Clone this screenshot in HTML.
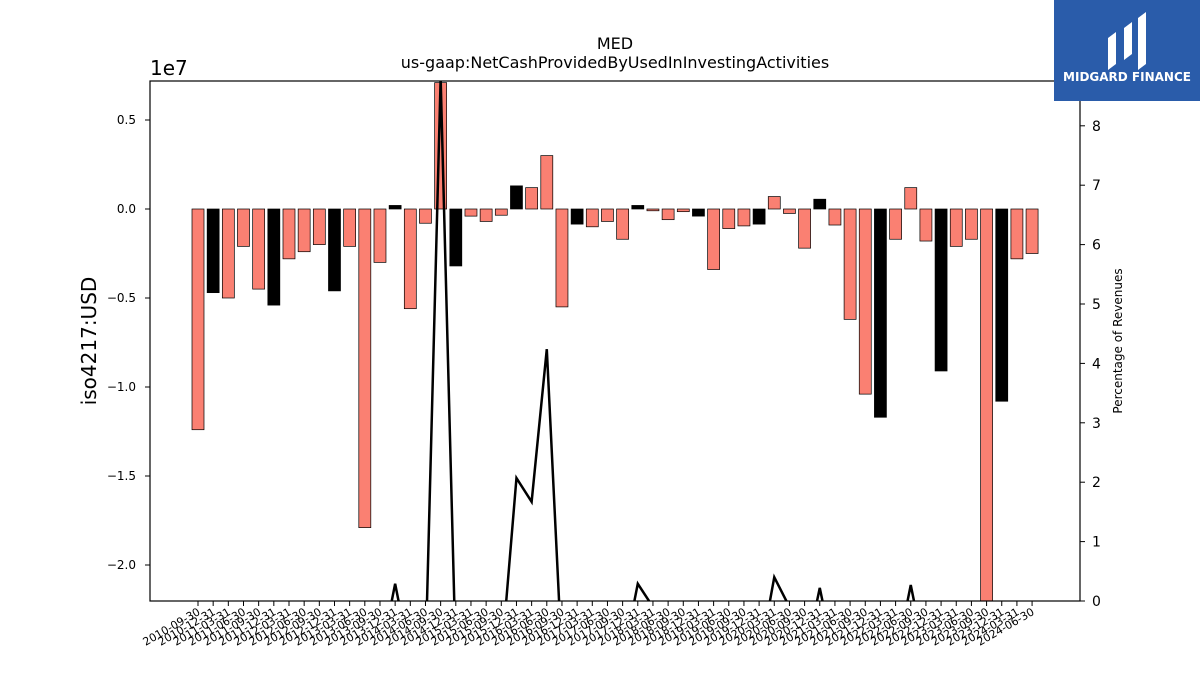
<!DOCTYPE html>
<html><head><meta charset="utf-8"><style>
body{margin:0;background:#fff;font-family:"DejaVu Sans","Liberation Sans",sans-serif}
</style></head><body>
<svg id="c" width="1200" height="675" xmlns="http://www.w3.org/2000/svg" font-family="DejaVu Sans, Liberation Sans, sans-serif">
<defs><clipPath id="clip"><rect x="150" y="81" width="930" height="520"/></clipPath></defs>
<text x="615" y="49" font-size="16" text-anchor="middle">MED</text>
<text x="615" y="68" font-size="16" text-anchor="middle">us-gaap:NetCashProvidedByUsedInInvestingActivities</text>
<text x="150" y="75" font-size="20">1e7</text>
<text transform="translate(96,341) rotate(-90)" font-size="20" text-anchor="middle">iso4217:USD</text>
<text transform="translate(1122,341) rotate(-90)" font-size="12" text-anchor="middle">Percentage of Revenues</text>
<g id="bars" clip-path="url(#clip)"></g>
<g id="line" clip-path="url(#clip)"></g>
<g id="axes"></g>
<g>
<rect x="1054" y="0" width="146" height="101" fill="#2a5caa"/>
<path d="M1108 70 V38 L1116 32 V64 Z M1124 60 V28 L1132 22 V54 Z M1138 70 V18 L1146 12 V64 Z" fill="#fff"/>
<text x="1127" y="81" font-size="12" font-weight="bold" fill="#fff" text-anchor="middle">MIDGARD FINANCE</text>
</g>
</svg>
<script>
const dates=["2010-09-30","2010-12-31","2011-03-31","2011-06-30","2011-09-30","2011-12-31","2012-03-31","2012-06-30","2012-09-30","2012-12-31","2013-03-31","2013-06-30","2013-09-30","2013-12-31","2014-03-31","2014-06-30","2014-09-30","2014-12-31","2015-03-31","2015-06-30","2015-09-30","2015-12-31","2016-03-31","2016-06-30","2016-09-30","2016-12-31","2017-03-31","2017-06-30","2017-09-30","2017-12-31","2018-03-31","2018-06-30","2018-09-30","2018-12-31","2019-03-31","2019-06-30","2019-09-30","2019-12-31","2020-03-31","2020-06-30","2020-09-30","2020-12-31","2021-03-31","2021-06-30","2021-09-30","2021-12-31","2022-03-31","2022-06-30","2022-09-30","2022-12-31","2023-03-31","2023-06-30","2023-09-30","2023-12-31","2024-03-31","2024-06-30"];
const values=[-1.24,-0.47,-0.50,-0.21,-0.45,-0.54,-0.28,-0.24,-0.20,-0.46,-0.21,-1.79,-0.30,0.02,-0.56,-0.08,0.71,-0.32,-0.04,-0.07,-0.035,0.13,0.12,0.30,-0.55,-0.085,-0.10,-0.07,-0.17,0.02,-0.01,-0.06,-0.015,-0.04,-0.34,-0.11,-0.095,-0.085,0.07,-0.025,-0.22,0.055,-0.09,-0.62,-1.04,-1.17,-0.17,0.12,-0.18,-0.91,-0.21,-0.17,-2.5,-1.08,-0.28,-0.25];
const pct=[-1,-1,-1,-1,-1,-1,-1,-1,-1,-1,-1,-1,-1,0.29,-1,-1,8.8,-1,-1,-1,-1,2.07,1.67,4.24,-1,-1,-1,-1,-1,0.29,-0.1,-1,-1,-1,-1,-1,-1,-1,0.4,-0.1,-1,0.22,-1,-1,-1,-1,-1,0.27,-1,-1,-1,-1,-1,-1,-1,-1];
const leftTicks=[0.5,0.0,-0.5,-1.0,-1.5,-2.0];
const rightTicks=[0,1,2,3,4,5,6,7,8];
const NS="http://www.w3.org/2000/svg";
const X=i=>198+i*15.165, Y=v=>209-v*178, R=p=>601-p*59.4;
function mk(t,a,p){const e=document.createElementNS(NS,t);for(const k in a)e.setAttribute(k,a[k]);p.appendChild(e);return e;}
const bars=document.getElementById('bars'),line=document.getElementById('line'),axes=document.getElementById('axes');
values.forEach((v,i)=>{const y0=Y(0),y1=Y(v);
 const r=mk('rect',{x:X(i)-6,y:Math.min(y0,y1),width:12,height:Math.abs(y1-y0),fill:i%4==1?'#000':'#fa8072',stroke:'#000','stroke-width':0.7},bars);
 
 });
const pl=mk('polyline',{points:pct.map((p,i)=>X(i)+','+R(p)).join(' '),fill:'none',stroke:'#000','stroke-width':2.5},line);


const fr=mk('rect',{x:150,y:81,width:930,height:520,fill:'none',stroke:'#000','stroke-width':1.2},axes);


leftTicks.forEach(t=>{const y=Y(t);mk('line',{x1:145,x2:150,y1:y,y2:y,stroke:'#000'},axes);
 const tx=mk('text',{x:136,y:y+4,'font-size':12,'text-anchor':'end'},axes);tx.textContent=(t<0?'\u2212':'')+Math.abs(t).toFixed(1);
 
 });
rightTicks.forEach(t=>{const y=R(t);mk('line',{x1:1080,x2:1085,y1:y,y2:y,stroke:'#000'},axes);
 const tx=mk('text',{x:1092,y:y+5,'font-size':14},axes);tx.textContent=t;
 
 });
dates.forEach((d,i)=>{const x=X(i);mk('line',{x1:x,x2:x,y1:601,y2:606,stroke:'#000'},axes);
 const tx=mk('text',{transform:`translate(${x+3},${614}) rotate(-30)`,'font-size':11,'text-anchor':'end'},axes);tx.textContent=d;
 
 });
</script>
</body></html>
